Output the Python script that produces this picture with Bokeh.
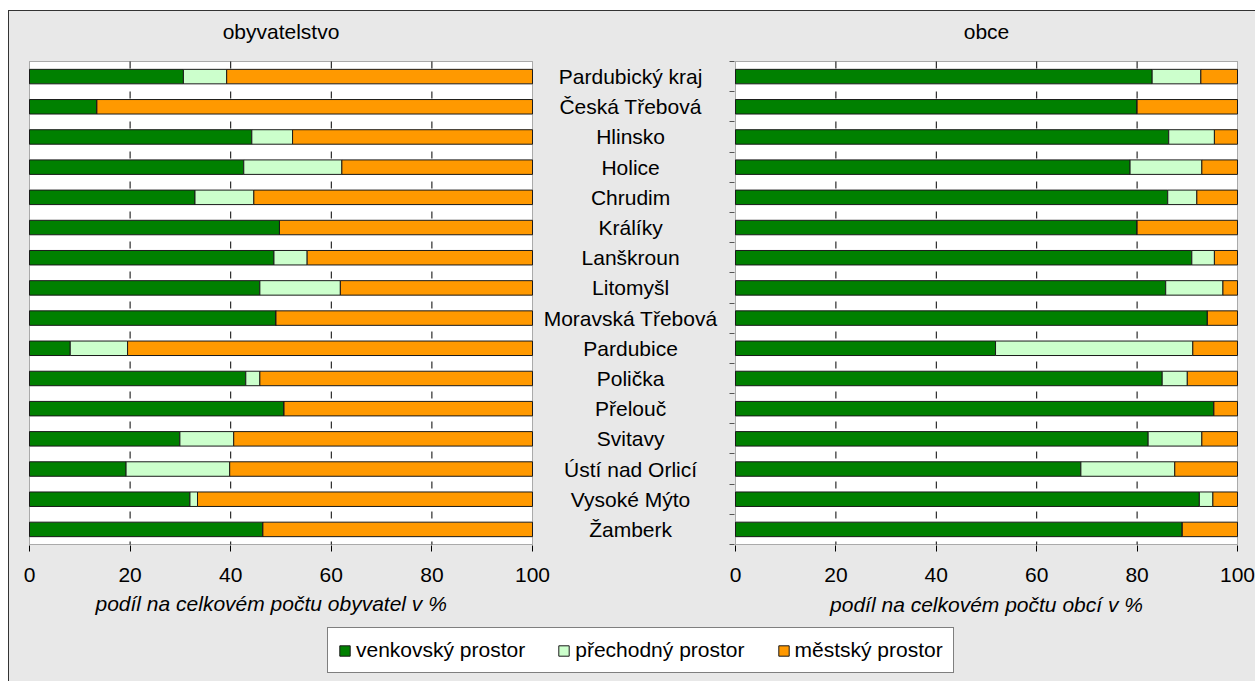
from bokeh.plotting import figure
from bokeh.models import (ColumnDataSource, Range1d, FixedTicker, Legend, LegendItem,
                          BoxAnnotation, Title)
from bokeh.layouts import row, column
from bokeh.core.properties import value
from bokeh.embed import file_html
from bokeh.resources import INLINE

# ---------------- data ----------------
categories = ["Pardubický kraj", "Česká Třebová", "Hlinsko", "Holice", "Chrudim",
              "Králíky", "Lanškroun", "Litomyšl", "Moravská Třebová", "Pardubice",
              "Polička", "Přelouč", "Svitavy", "Ústí nad Orlicí", "Vysoké Mýto", "Žamberk"]
series_names = ["venkovský prostor", "přechodný prostor", "městský prostor"]
series_colors = ["#008000", "#CCFFCC", "#FF9900"]
x_ticks = [0, 20, 40, 60, 80, 100]

# obyvatelstvo (share of inhabitants, %)
venk_obyv = [30.6, 13.4, 44.2, 42.6, 32.9, 49.7, 48.6, 45.8, 49.0, 8.1, 43.0, 50.6, 29.9, 19.2, 31.9, 46.4]
prech_obyv = [8.6, 0.0, 8.1, 19.5, 11.7, 0.0, 6.6, 16.0, 0.0, 11.4, 2.8, 0.0, 10.7, 20.6, 1.5, 0.0]
mest_obyv = [60.8, 86.6, 47.7, 37.9, 55.4, 50.3, 44.8, 38.2, 51.0, 80.5, 54.2, 49.4, 59.4, 60.2, 66.6, 53.6]

# obce (share of municipalities, %)
venk_obce = [83.0, 80.0, 86.3, 78.6, 86.1, 80.0, 90.9, 85.7, 94.0, 51.8, 85.0, 95.3, 82.2, 68.8, 92.4, 89.0]
prech_obce = [9.7, 0.0, 9.1, 14.3, 5.8, 0.0, 4.5, 11.4, 0.0, 39.3, 5.0, 0.0, 10.7, 18.7, 2.7, 0.0]
mest_obce = [7.3, 20.0, 4.6, 7.1, 8.1, 20.0, 4.6, 2.9, 6.0, 8.9, 10.0, 4.7, 7.1, 12.5, 4.9, 11.0]

titles = ["obyvatelstvo", "obce"]
x_labels = ["podíl na celkovém počtu obyvatel v %", "podíl na celkovém počtu obcí v %"]

# ---------------- style / layout constants (pixels) ----------------
FONT = "Liberation Sans"
BG = "#e8e8e8"
FS = "21px"
N = len(categories)
stack_keys = ["venk", "prech", "mest"]

ROW_H = 611
BT, BB = 2, 77                 # frame from 13 px to 545 px (page)
BOX_TOP_GAP = 48               # white plot area starts 48 px below the frame top
BOX_H = 483                    # white plot area height
PX_ROW = BOX_H / N
Y_BOT = (N - 0.5) + 1.0 / PX_ROW
Y_TOP = -0.5 - BOX_TOP_GAP / PX_ROW
Y_TITLE = -0.5 - 30.0 / PX_ROW  # title baseline 30 px above the plot area

# left panel: frame widened to the right so the centred category names fit inside it
L_W, L_BL = 711, 19
L_PX = 5.03                     # px per percent
L_X0 = -1.0 / L_PX
L_X1 = 100.0 + (L_W - L_BL - 1 - 100 * L_PX) / L_PX
LABEL_X = 119.5                 # centre of the category names (left-panel data units)

R_W, R_BL, R_BR = 535, 14, 17
R_PX = 5.02
R_X0 = -1.0 / R_PX
R_X1 = 100.0 + 1.0 / R_PX


def make_source(venk, prech, mest):
    return ColumnDataSource(dict(y=list(range(N)), cat=categories,
                                 venk=venk, prech=prech, mest=mest))


grid_src = ColumnDataSource(dict(gx=x_ticks[1:-1]))


def base_panel(width, bl, br, x0, x1):
    p = figure(width=width, height=ROW_H, x_range=Range1d(x0, x1),
               y_range=Range1d(Y_BOT, Y_TOP), output_backend="svg", toolbar_location=None,
               title=None, min_border_left=bl, min_border_right=br,
               min_border_top=BT, min_border_bottom=BB)
    p.background_fill_color = BG
    p.border_fill_color = BG
    p.outline_line_color = None
    p.xgrid.visible = False
    p.ygrid.visible = False
    p.add_layout(BoxAnnotation(left=0, right=100, top=-0.5, bottom=N - 0.5,
                               fill_color="white", fill_alpha=1.0,
                               line_color="black", line_width=1, level="image"))
    # dashed vertical gridlines inside the plot area
    p.segment(x0="gx", x1="gx", y0=-0.5, y1=N - 0.5, source=grid_src,
              line_color="black", line_width=1, line_dash="7 23")
    return p


def style_xaxis(xa, standoff):
    xa.ticker = FixedTicker(ticks=x_ticks)
    xa.axis_line_color = None
    xa.major_tick_line_color = "black"
    xa.major_tick_out = 6
    xa.major_tick_in = 0
    xa.minor_tick_line_color = None
    xa.major_label_text_font = FONT
    xa.major_label_text_font_size = FS
    xa.major_label_text_color = "black"
    xa.major_label_standoff = standoff


def add_bars_and_title(p, src, title):
    p.hbar_stack(stack_keys, y="y", height=0.48, source=src,
                 fill_color=series_colors, line_color="#1a1a1a", line_width=1)
    p.text(x=[50], y=[Y_TITLE], text=[title], text_align="center",
           text_baseline="alphabetic", text_font=value(FONT), text_font_size=value(FS),
           text_color="black")


src_obyv = make_source(venk_obyv, prech_obyv, mest_obyv)
src_obce = make_source(venk_obce, prech_obce, mest_obce)

# ---------------- left panel: obyvatelstvo ----------------
pL = base_panel(L_W, L_BL, 0, L_X0, L_X1)
pL.yaxis.visible = False
add_bars_and_title(pL, src_obyv, titles[0])
style_xaxis(pL.below[0], 16)
tLx = Title(text=x_labels[0], align="left", offset=67, standoff=10,
            text_font=FONT, text_font_size=FS, text_font_style="italic", text_color="black")
pL.add_layout(tLx, "below")
# category names, centred between the two panels
pL.text(x=LABEL_X, y="y", text="cat", source=src_obyv, text_align="center",
        text_baseline="middle", text_font=value(FONT), text_font_size=value(FS),
        text_color="black")

# ---------------- right panel: obce ----------------
pR = base_panel(R_W, R_BL, R_BR, R_X0, R_X1)
add_bars_and_title(pR, src_obce, titles[1])
xa = pR.below[0]
style_xaxis(xa, 16)
xa.axis_label = x_labels[1]
xa.axis_label_text_font = FONT
xa.axis_label_text_font_size = FS
xa.axis_label_text_font_style = "italic"
xa.axis_label_text_color = "black"
xa.axis_label_standoff = 8
ya = pR.left[0]
y_bounds = [k - 0.5 for k in range(N + 1)]
ya.ticker = FixedTicker(ticks=y_bounds)
ya.axis_line_color = None
ya.major_tick_line_color = "#555555"
ya.major_tick_out = 5
ya.major_tick_in = 0
ya.minor_tick_line_color = None
ya.major_label_overrides = {b: "" for b in y_bounds}
ya.major_label_text_color = None
ya.major_label_standoff = 0

# ---------------- legend strip ----------------
pLeg = figure(width=L_W + R_W, height=59, output_backend="svg", toolbar_location=None,
              x_range=Range1d(0, 100), y_range=Range1d(-0.5, 0.5),
              x_axis_location=None, y_axis_location=None,
              min_border_left=0, min_border_right=0, min_border_top=0, min_border_bottom=0)
pLeg.background_fill_color = BG
pLeg.border_fill_color = BG
pLeg.outline_line_color = None
pLeg.xgrid.visible = False
pLeg.ygrid.visible = False
leg_rs = pLeg.hbar_stack(stack_keys, y="y", height=0.48, source=src_obyv,
                         fill_color=series_colors, line_color="#1a1a1a", line_width=1)
for r in leg_rs:
    r.visible = False
legend = Legend(items=[LegendItem(label=nm, renderers=[r]) for nm, r in zip(series_names, leg_rs)],
                orientation="horizontal", location=(318, 8),
                glyph_width=13, glyph_height=13, label_standoff=5, spacing=32,
                padding=10, margin=0, label_height=19,
                label_text_font=FONT, label_text_font_size=FS, label_text_color="black",
                border_line_color="black", border_line_width=1,
                background_fill_color="white", background_fill_alpha=1.0)
pLeg.add_layout(legend)

layout = column(row(pL, pR), pLeg,
                styles={"border-left": "1px solid #333333", "border-top": "1px solid #333333",
                        "background-color": BG, "margin-top": "10px", "margin-left": "8px"})

open("out.html", "w").write(file_html(layout, INLINE))
